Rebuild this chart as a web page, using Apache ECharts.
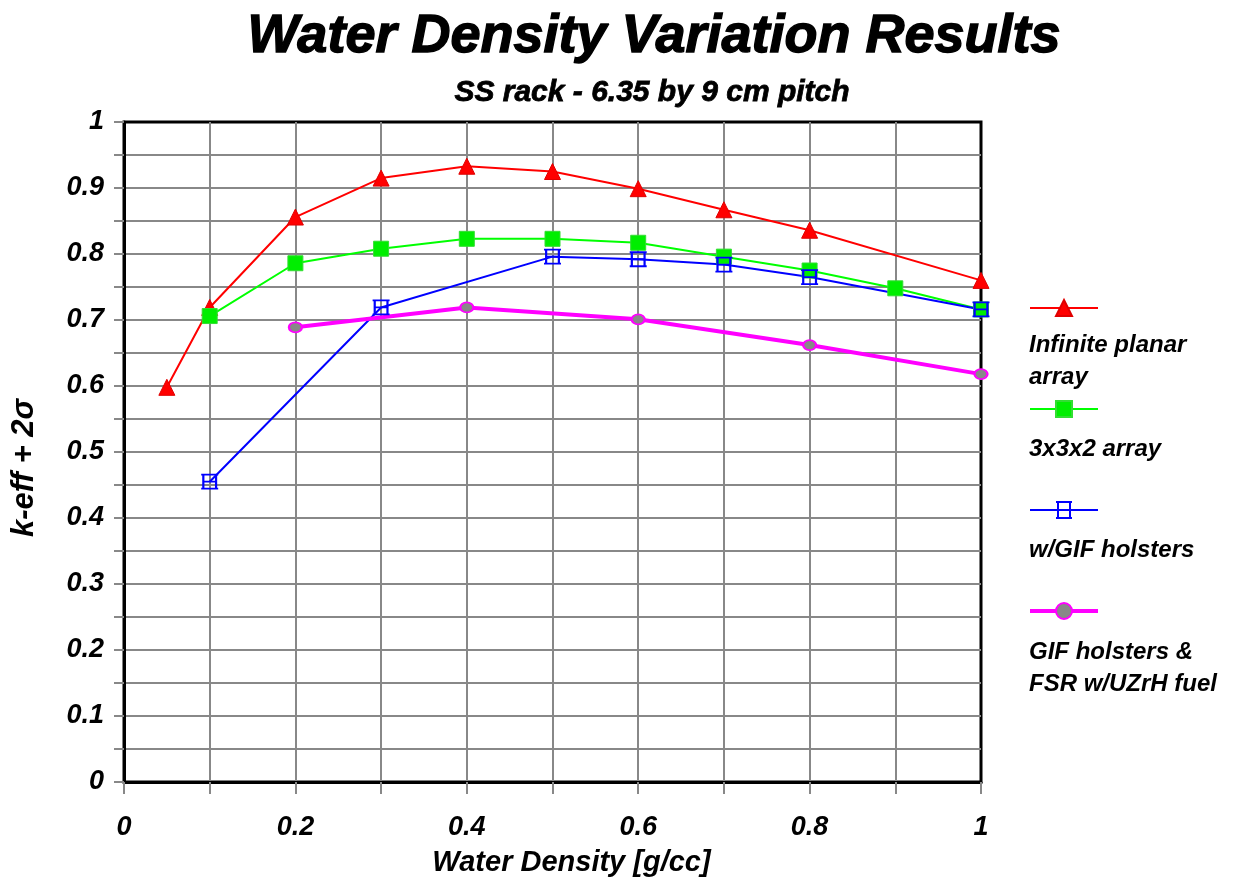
<!DOCTYPE html>
<html>
<head>
<meta charset="utf-8">
<script src="https://cdn.jsdelivr.net/npm/echarts@6/dist/echarts.min.js"></script>
<style>html,body{margin:0;padding:0;background:#fff}#c{width:1237px;height:882px}</style>
</head>
<body>
<div id="c"></div>
<script>
const seriesNames = ['Infinite planar array', '3x3x2 array', 'w/GIF holsters', 'GIF holsters & FSR w/UZrH fuel'];
const legendLabels = ['Infinite planar\narray', '3x3x2 array', 'w/GIF holsters', 'GIF holsters &\nFSR w/UZrH fuel'];

const planarX = [0.05, 0.1, 0.2, 0.3, 0.4, 0.5, 0.6, 0.7, 0.8, 1.0];
const planarY = [0.598, 0.719, 0.856, 0.915, 0.933, 0.925, 0.899, 0.867, 0.836, 0.760];

const array332X = [0.1, 0.2, 0.3, 0.4, 0.5, 0.6, 0.7, 0.8, 0.9, 1.0];
const array332Y = [0.706, 0.786, 0.808, 0.823, 0.823, 0.817, 0.796, 0.775, 0.748, 0.716];

const gifX = [0.1, 0.3, 0.5, 0.6, 0.7, 0.8, 1.0];
const gifY = [0.455, 0.719, 0.796, 0.792, 0.784, 0.765, 0.716];

const fsrX = [0.2, 0.4, 0.6, 0.8, 1.0];
const fsrY = [0.689, 0.719, 0.701, 0.662, 0.618];

const FONT = '"Liberation Sans", Arial, sans-serif';
const pairs = (xs, ys) => xs.map((x, i) => [x, ys[i]]);
const fmt = v => String(Math.round(v * 10) / 10);
const heavy = (size, bw) => ({fontFamily: FONT, fontSize: size, fontWeight: 'bold', fontStyle: 'italic', color: '#000',
  textBorderColor: '#000', textBorderWidth: bw});

const chart = echarts.init(document.getElementById('c'), null, {renderer: 'canvas'});
const gifSymbol = 'path://M0,0 H16 M2,0 V12 M14,0 V12 M0,12 H16 M2,6 H14';

const option = {
  backgroundColor: '#fff',
  animation: false,
  title: [
    {text: 'Water Density Variation Results', left: 649, top: 5, textAlign: 'center',
     textStyle: heavy(54, 1.4)},
    {text: 'SS rack - 6.35 by 9 cm pitch', left: 647, top: 73, textAlign: 'center',
     textStyle: heavy(30, 0.8)}
  ],
  grid: {left: 124, right: 256, top: 122, bottom: 97, show: true, borderColor: '#000', borderWidth: 3, backgroundColor: 'transparent'},
  legend: {
    orient: 'vertical', left: 1028, top: 298, padding: 0,
    itemWidth: 68, itemHeight: 20, itemGap: 82,
    data: seriesNames.map((n, i) => ({name: n, lineStyle: {width: i === 3 ? 4 : 2}})),
    formatter: () => '',
    selectedMode: false
  },
  xAxis: {
    type: 'value', min: 0, max: 1, interval: 0.1,
    name: 'Water Density [g/cc]', nameLocation: 'middle', nameGap: 66,
    nameTextStyle: Object.assign(heavy(29, 0), {padding: [0, 0, 0, 38]}),
    axisLine: {show: true, lineStyle: {color: '#000', width: 3}},
    axisTick: {show: true, length: 12, lineStyle: {color: '#888', width: 2}},
    axisLabel: Object.assign(heavy(27, 0), {
      margin: 32,
      formatter: v => (Math.round(v * 10) % 2 === 0 ? fmt(v) : '')
    }),
    splitLine: {show: true, showMinLine: false, showMaxLine: false, lineStyle: {color: '#888', width: 2}}
  },
  yAxis: {
    type: 'value', min: 0, max: 1, interval: 0.05,
    name: 'k-eff + 2σ', nameLocation: 'middle', nameGap: 84, nameRotate: 90,
    nameTextStyle: Object.assign(heavy(31, 0), {padding: [0, 32, 0, 0]}),
    axisLine: {show: true, lineStyle: {color: '#000', width: 3}},
    axisTick: {show: true, length: 10, lineStyle: {color: '#888', width: 2}},
    axisLabel: Object.assign(heavy(27, 0), {
      margin: 20,
      formatter: v => (Math.round(v * 20) % 2 === 0 ? fmt(v) : '')
    }),
    splitLine: {show: true, showMinLine: false, showMaxLine: false, lineStyle: {color: '#888', width: 2}}
  },
  series: [
    {name: seriesNames[0], type: 'line', data: pairs(planarX, planarY),
     symbol: 'triangle', symbolSize: 16,
     lineStyle: {color: '#ff0000', width: 2},
     itemStyle: {color: '#ff0000', borderColor: '#e00000', borderWidth: 1}},
    {name: seriesNames[1], type: 'line', data: pairs(array332X, array332Y),
     symbol: 'rect', symbolSize: 15,
     lineStyle: {color: '#00ff00', width: 2},
     itemStyle: {color: '#00ee00', borderColor: '#33dd33', borderWidth: 1}},
    {name: seriesNames[2], type: 'line', data: pairs(gifX, gifY),
     symbol: gifSymbol, symbolSize: [17, 14],
     lineStyle: {color: '#0000ff', width: 2},
     itemStyle: {color: 'transparent', borderColor: '#0000ff', borderWidth: 2}},
    {name: seriesNames[3], type: 'line', data: pairs(fsrX, fsrY),
     symbol: 'circle', symbolSize: [13, 10],
     lineStyle: {color: '#ff00ff', width: 4},
     itemStyle: {color: '#888888', borderColor: '#ff00ff', borderWidth: 2}}
  ],
  graphic: legendLabels.map((t, i) => ({
    type: 'text', left: 1029, top: [329, 433, 534, 636][i],
    style: {text: t, font: 'italic bold 24px ' + FONT, fill: '#000', lineHeight: 32}
  }))
};
chart.setOption(option);
</script>
</body>
</html>
